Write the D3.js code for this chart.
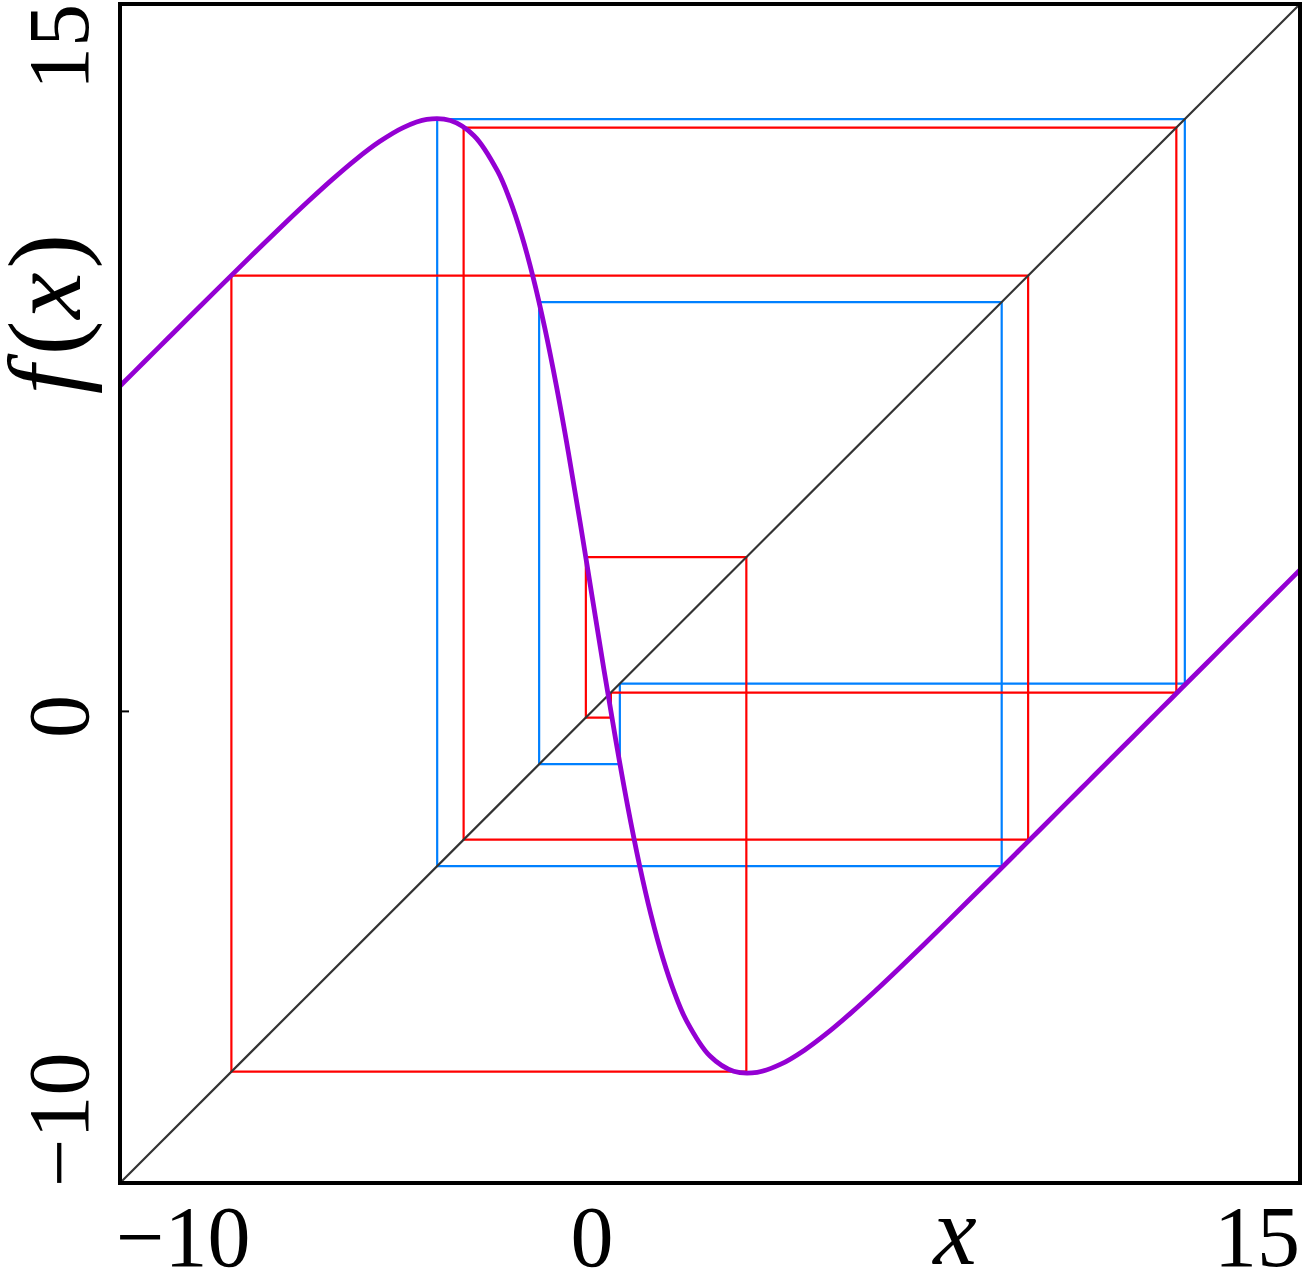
<!DOCTYPE html>
<html>
<head>
<meta charset="utf-8">
<script src="https://cdn.jsdelivr.net/npm/d3@7"></script>
<style>
  html, body { margin: 0; padding: 0; background: #fff; }
  svg { display: block; }
  text { font-family: "Liberation Serif", "DejaVu Serif", serif; fill: #000; }
</style>
</head>
<body>
<svg id="chart" width="1308" height="1275"></svg>
<script>
// ---- data ----
const xDomain = [-10, 15];
const yDomain = [-10, 15];
const xTickLabels = ["\u221210", "0", "15"];
const xTickValues = [-10, 0, 15];
const yTickLabels = ["\u221210", "0", "15"];
const yTickValues = [-10, 0, 15];

// sampled map curve f(x)
const curveX = [-10, -9.5, -9, -8.5, -8, -7.5, -7, -6.5, -6, -5.5, -5, -4.5, -4, -3.5, -3, -2.5, -2, -1.75, -1.5, -1.25, -1, -0.75, -0.5, -0.25, 0, 0.25, 0.5, 0.75, 1, 1.25, 1.5, 1.75, 2, 2.5, 3, 3.5, 4, 4.5, 5, 5.5, 6, 6.5, 7, 7.5, 8, 8.5, 9, 9.5, 10, 10.5, 11, 11.5, 12, 12.5, 13, 13.5, 14, 14.5, 15];
const curveY = [6.899, 7.398, 7.896, 8.394, 8.890, 9.384, 9.874, 10.357, 10.828, 11.282, 11.707, 12.083, 12.380, 12.553, 12.529, 12.208, 11.455, 10.872, 10.128, 9.214, 8.128, 6.878, 5.489, 3.997, 2.450, 0.903, -0.589, -1.978, -3.228, -4.314, -5.228, -5.972, -6.555, -7.308, -7.629, -7.653, -7.480, -7.183, -6.807, -6.382, -5.929, -5.457, -4.974, -4.484, -3.990, -3.494, -2.996, -2.498, -1.999, -1.499, -0.999, -0.500, 0.000, 0.500, 1.000, 1.500, 2.000, 2.500, 3.000];

// cobweb orbits (successive iterates)
const redOrbit = [0.40, -0.13, 3.27, -7.64, 9.24, -2.72, 12.38, 0.40];
const blueOrbit = [0.59, -1.12, 8.68, -3.28, 12.56, 0.59];

// ---- drawing ----
const svg = d3.select("#chart");
const mLeft = 120, mRight = 1300, mTop = 4, mBottom = 1183;
const x = d3.scaleLinear().domain(xDomain).range([mLeft, mRight]);
const y = d3.scaleLinear().domain(yDomain).range([mBottom, mTop]);

const g = svg.append("g");

function cobweb(orbit) {
  const pts = [];
  for (let i = 0; i < orbit.length - 1; i++) {
    pts.push([orbit[i], orbit[i]]);
    pts.push([orbit[i], orbit[i + 1]]);
  }
  pts.push([orbit[orbit.length - 1], orbit[orbit.length - 1]]);
  return pts;
}
const lineGen = d3.line().x(d => x(d[0])).y(d => y(d[1]));

g.append("path").datum(cobweb(blueOrbit))
  .attr("d", lineGen).attr("fill", "none")
  .attr("stroke", "#0080ff").attr("stroke-width", 2.2);

g.append("path").datum(cobweb(redOrbit))
  .attr("d", lineGen).attr("fill", "none")
  .attr("stroke", "#ff0000").attr("stroke-width", 2.2);

// diagonal y = x
g.append("line")
  .attr("x1", x(xDomain[0])).attr("y1", y(xDomain[0]))
  .attr("x2", x(xDomain[1])).attr("y2", y(xDomain[1]))
  .attr("stroke", "#333333").attr("stroke-width", 2.2);

// map curve
const curvePts = curveX.map((v, i) => [v, curveY[i]]);
g.append("path").datum(curvePts)
  .attr("d", d3.line().x(d => x(d[0])).y(d => y(d[1])).curve(d3.curveCatmullRom.alpha(0.5)))
  .attr("fill", "none").attr("stroke", "#9400d3").attr("stroke-width", 4.8)
  .attr("stroke-linejoin", "round");

// frame
svg.append("rect")
  .attr("x", mLeft).attr("y", mTop)
  .attr("width", mRight - mLeft).attr("height", mBottom - mTop)
  .attr("fill", "none").attr("stroke", "#000").attr("stroke-width", 4);

// left tick at 0
svg.append("line")
  .attr("x1", mLeft).attr("x2", mLeft + 9)
  .attr("y1", y(0)).attr("y2", y(0))
  .attr("stroke", "#000").attr("stroke-width", 2);

// x tick labels
const fs = 86;
xTickValues.forEach((v, i) => {
  const last = xTickValues.length - 1;
  const anchor = i === 0 ? "start" : (i === last ? "end" : "middle");
  svg.append("text")
    .attr("x", i === 0 ? mLeft - 4 : (i === last ? mRight : x(v)))
    .attr("y", 1266)
    .attr("text-anchor", anchor)
    .attr("font-size", fs)
    .text(xTickLabels[i]);
});

// y tick labels (rotated)
yTickValues.forEach((v, i) => {
  const last = yTickValues.length - 1;
  const anchor = i === 0 ? "start" : (i === last ? "end" : "middle");
  const yy = i === 0 ? mBottom + 4 : (i === last ? mTop : y(v) + 5);
  svg.append("text")
    .attr("transform", `translate(88,${yy}) rotate(-90)`)
    .attr("text-anchor", anchor)
    .attr("font-size", fs)
    .text(yTickLabels[i]);
});

// axis titles
svg.append("text")
  .attr("x", 955).attr("y", 1264)
  .attr("text-anchor", "middle")
  .attr("font-size", 98).attr("font-style", "italic")
  .text("x");

const ft = svg.append("text")
  .attr("transform", "translate(80,314) rotate(-90)")
  .attr("text-anchor", "middle")
  .attr("font-size", 104);
ft.append("tspan").attr("font-style", "italic").text("f");
ft.append("tspan").attr("dx", 10).text("(");
ft.append("tspan").attr("dx", 2).attr("font-style", "italic").text("x");
ft.append("tspan").attr("dx", 4).text(")");
</script>
</body>
</html>
